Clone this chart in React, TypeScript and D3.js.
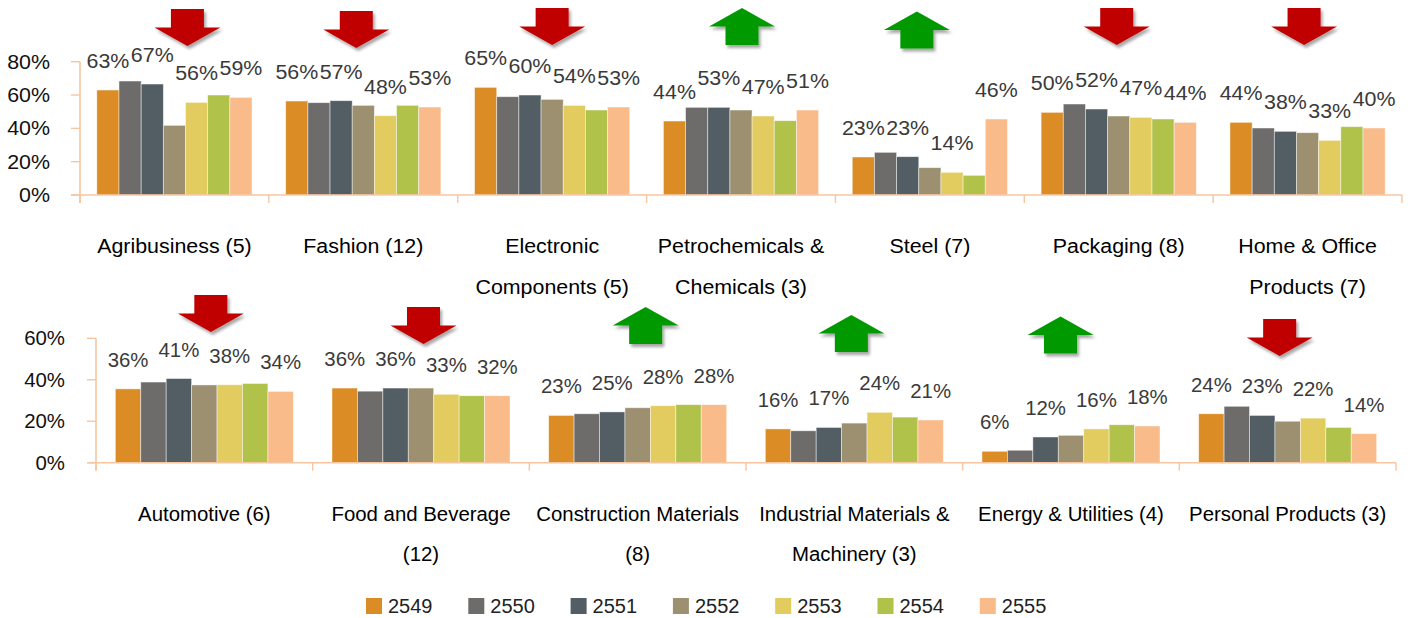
import React from "react";
import * as d3 from "d3";

// ---------- DATA ----------
const series = ["2549", "2550", "2551", "2552", "2553", "2554", "2555"];
const seriesColors = ["#DB8C24", "#6E6B6B", "#525E64", "#9C9070", "#E2CC60", "#B0C24A", "#F9BB8A"];
const labeledSeries = ["2549", "2551", "2553", "2555"];

const topCategories = [
  ["Agribusiness (5)"],
  ["Fashion (12)"],
  ["Electronic", "Components (5)"],
  ["Petrochemicals &", "Chemicals (3)"],
  ["Steel (7)"],
  ["Packaging (8)"],
  ["Home & Office", "Products (7)"],
];
const topTrend = ["down", "down", "down", "up", "up", "down", "down"];
const top2549 = [63, 56.4, 64.6, 44.4, 22.8, 49.6, 43.6];
const top2550 = [68.4, 55.4, 59, 52.6, 25.6, 54.6, 40.2];
const top2551 = [66.6, 56.6, 60, 52.6, 23, 51.6, 38.2];
const top2552 = [41.8, 53.8, 57.4, 51, 16.4, 47.4, 37.4];
const top2553 = [55.6, 47.6, 53.8, 47.4, 13.6, 46.6, 32.8];
const top2554 = [60, 53.8, 51, 44.6, 11.8, 45.6, 41];
const top2555 = [58.6, 52.8, 52.8, 51, 45.6, 43.6, 40.2];
const topTicks = [0, 20, 40, 60, 80];

const bottomCategories = [
  ["Automotive (6)"],
  ["Food and Beverage", "(12)"],
  ["Construction Materials", "(8)"],
  ["Industrial Materials &", "Machinery (3)"],
  ["Energy & Utilities (4)"],
  ["Personal Products (3)"],
];
const bottomTrend = ["down", "down", "up", "up", "up", "down"];
const bot2549 = [35.6, 36, 22.8, 16.3, 5.5, 23.6];
const bot2550 = [38.9, 34.5, 23.6, 15.4, 6, 27.2];
const bot2551 = [40.6, 36, 24.5, 17, 12.4, 22.8];
const bot2552 = [37.5, 36, 26.5, 19.1, 13.2, 20];
const bot2553 = [37.6, 33, 27.5, 24.3, 16.3, 21.5];
const bot2554 = [38.2, 32.3, 28, 22, 18.3, 17];
const bot2555 = [34.4, 32.3, 28, 20.6, 17.7, 14];
const bottomTicks = [0, 20, 40, 60];

// ---------- LAYOUT ----------
const topArrowNudge = [13, -7, 0, 1, -13, -2, -3.5];
const topArrowTop = [9, 11, 8, 8, 11.5, 8, 8];
const botArrowNudge = [6.5, 2.5, 8, -3, -10.5, -8];
const botArrowTop = [295, 307, 307, 315, 316.5, 319];

const FONT = "'Liberation Sans', Arial, Helvetica, sans-serif";
const AXIS = "#F7C6A0";

function Arrow({ cx, top, dir }: { cx: number; top: number; dir: string }) {
  const hw = 33, sw = 16.5, h1 = 18.5, h = 37;
  let d;
  if (dir === "down") {
    d = `M${cx - sw},${top} L${cx + sw},${top} L${cx + sw},${top + h1} L${cx + hw},${top + h1} L${cx},${top + h} L${cx - hw},${top + h1} L${cx - sw},${top + h1} Z`;
  } else {
    d = `M${cx},${top} L${cx + hw},${top + h1} L${cx + sw},${top + h1} L${cx + sw},${top + h} L${cx - sw},${top + h} L${cx - sw},${top + h1} L${cx - hw},${top + h1} Z`;
  }
  return <path d={d} fill={dir === "down" ? "#C00000" : "#009900"} filter="url(#shadow)" />;
}

function Txt({ x, y, sx, anchor, fill, size, children }: any) {
  return (
    <text
      transform={`translate(${x},${y}) scale(${sx},1)`}
      textAnchor={anchor}
      fill={fill}
      fontSize={size}
      fontFamily={FONT}
    >
      {children}
    </text>
  );
}

function Panel({
  cats, seriesVals, trend, ticks, xRange, y0, yMax, yMaxPx, tickX, sx, labelBase, lineGap,
  arrowNudge, arrowTop,
}: any) {
  const catNames = cats.map((c: string[]) => c.join(" "));
  const x = d3.scaleBand().domain(catNames).range(xRange).paddingInner(0).paddingOuter(0);
  const inner = d3.scaleBand().domain(series).range([0, x.bandwidth()]).paddingInner(0).paddingOuter(0.76);
  const y = d3.scaleLinear().domain([0, yMax]).range([y0, yMaxPx]);
  const bounds = catNames.map((c: string) => x(c) as number).concat([xRange[1]]);
  return (
    <g>
      {series.map((s, si) =>
        catNames.map((c: string, ci: number) => {
          const v = seriesVals[si][ci];
          const bx = (x(c) as number) + (inner(s) as number);
          return (
            <rect
              key={s + c}
              x={bx}
              y={y(v)}
              width={inner.bandwidth()}
              height={y0 - y(v)}
              fill={seriesColors[si]}
              stroke="#ffffff"
              strokeOpacity={0.55}
              strokeWidth={0.8}
            />
          );
        })
      )}
      <line x1={xRange[0]} x2={xRange[0]} y1={yMaxPx} y2={y0 + 8} stroke={AXIS} strokeWidth={1.6} />
      <line x1={xRange[0] - 9} x2={xRange[1]} y1={y0} y2={y0} stroke={AXIS} strokeWidth={1.6} />
      {ticks.map((t: number) => (
        <line key={"t" + t} x1={xRange[0] - 9} x2={xRange[0]} y1={y(t)} y2={y(t)} stroke={AXIS} strokeWidth={1.4} />
      ))}
      {bounds.map((b: number, i: number) => (
        <line key={"b" + i} x1={b} x2={b} y1={y0} y2={y0 + 8} stroke={AXIS} strokeWidth={1.4} />
      ))}
      {ticks.map((t: number) => (
        <Txt key={"tl" + t} x={tickX} y={y(t) + 7} sx={sx} anchor="end" fill="#111" size={20}>
          {t + "%"}
        </Txt>
      ))}
      {series.map((s, si) =>
        labeledSeries.includes(s)
          ? catNames.map((c: string, ci: number) => {
              const v = seriesVals[si][ci];
              const cx = (x(c) as number) + (inner(s) as number) + inner.bandwidth() / 2;
              return (
                <Txt key={"l" + s + c} x={cx} y={y(v) - 22} sx={sx} anchor="middle" fill="#3A3A3A" size={20}>
                  {Math.round(v) + "%"}
                </Txt>
              );
            })
          : null
      )}
      {cats.map((lines: string[], ci: number) => {
        const cx = (x(catNames[ci]) as number) + x.bandwidth() / 2;
        return lines.map((ln: string, li: number) => (
          <Txt key={"c" + ci + li} x={cx} y={labelBase + li * lineGap} sx={sx} anchor="middle" fill="#000" size={20}>
            {ln}
          </Txt>
        ));
      })}
      {trend.map((dir: string, ci: number) => {
        const cx = (x(catNames[ci]) as number) + x.bandwidth() / 2 + arrowNudge[ci];
        return <Arrow key={"a" + ci} cx={cx} top={arrowTop[ci]} dir={dir} />;
      })}
    </g>
  );
}

export default function App() {
  const topVals = [top2549, top2550, top2551, top2552, top2553, top2554, top2555];
  const botVals = [bot2549, bot2550, bot2551, bot2552, bot2553, bot2554, bot2555];
  const legendX = d3.scaleBand().domain(series).range([366, 366 + 7 * 102.3]);
  return (
    <div style={{ position: "absolute", left: 0, top: 0 }}>
      <svg width={1410} height={618} style={{ display: "block", background: "#fff" }}>
        <defs>
          <filter id="shadow" x="-30%" y="-30%" width="170%" height="170%">
            <feDropShadow dx={2} dy={3} stdDeviation={1.8} floodColor="#000" floodOpacity={0.35} />
          </filter>
        </defs>
        <Panel
          cats={topCategories}
          seriesVals={topVals}
          trend={topTrend}
          ticks={topTicks}
          xRange={[80, 1402]}
          y0={195}
          yMax={80}
          yMaxPx={61.7}
          tickX={50}
          sx={1.07}
          labelBase={253}
          lineGap={41}
          arrowNudge={topArrowNudge}
          arrowTop={topArrowTop}
        />
        <Panel
          cats={bottomCategories}
          seriesVals={botVals}
          trend={bottomTrend}
          ticks={bottomTicks}
          xRange={[96, 1396]}
          y0={462.7}
          yMax={60}
          yMaxPx={338.3}
          tickX={65}
          sx={1.02}
          labelBase={521}
          lineGap={40}
          arrowNudge={botArrowNudge}
          arrowTop={botArrowTop}
        />
        {series.map((s, i) => (
          <g key={"lg" + s}>
            <rect x={legendX(s) as number} y={598} width={16} height={16} fill={seriesColors[i]} />
            <text x={(legendX(s) as number) + 22} y={613} fontSize={20} fontFamily={FONT} fill="#222">
              {s}
            </text>
          </g>
        ))}
      </svg>
    </div>
  );
}
